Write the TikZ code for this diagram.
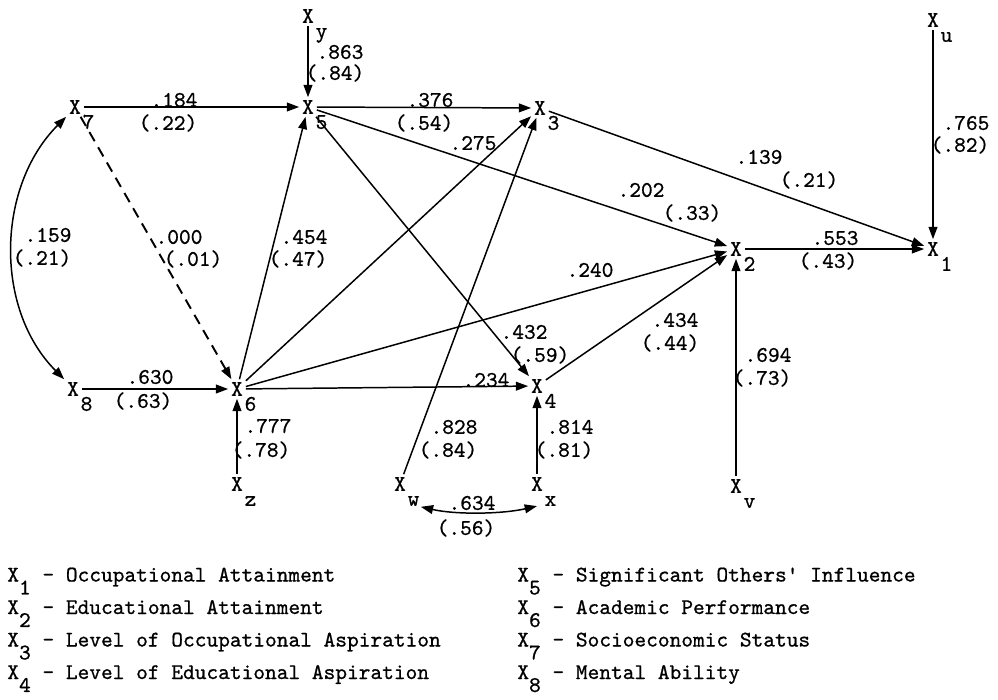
\documentclass[tikz,border=0pt]{standalone}
\usepackage{fontspec}
\usepackage{tikz}
\usetikzlibrary{arrows.meta}

\newfontfamily\typew{lmmono10-regular.otf}[FakeBold=0.8]
\newcommand\diagfont{\fontsize{12.7}{15}\selectfont\typew}
\newcommand\vx[1]{X\rlap{\smash{\hspace{0.08em}\raisebox{-0.67em}{#1}}}}
\newcommand\kx[1]{X\smash{\raisebox{-0.58em}{#1}}}

\tikzset{
  var/.style={inner sep=1.5pt, font=\diagfont},
  coef/.style={inner sep=0pt, font=\diagfont},
  eff/.style={-{Triangle[length=7pt,width=5pt]}, line width=0.85pt},
  corr/.style={{Triangle[length=7pt,width=5pt]}-{Triangle[length=7pt,width=5pt]}, line width=0.85pt},
}

\begin{document}
\begin{tikzpicture}[x=0.02cm,y=-0.02cm]
\useasboundingbox (0,0) rectangle (998,700);

% variables
\node[var] (xy) at (308,16) {\vx{y}};
\node[var] (x7) at (75,107) {\vx{7}};
\node[var] (x5) at (308,107) {\vx{5}};
\node[var] (x3) at (540,108) {\vx{3}};
\node[var] (xu) at (933,20) {\vx{u}};
\node[var] (x2) at (736,249) {\vx{2}};
\node[var] (x1) at (933,249) {\vx{1}};
\node[var] (x8) at (73,389) {\vx{8}};
\node[var] (x6) at (237,389) {\vx{6}};
\node[var] (x4) at (537,386) {\vx{4}};
\node[var] (xz) at (237,484) {\vx{z}};
\node[var] (xw) at (400,484) {\vx{w}};
\node[var] (xx) at (537,484) {\vx{x}};
\node[var] (xv) at (736,486) {\vx{v}};

% paths
\draw[eff] (x7) -- (x5);
\draw[eff] (xy) -- (x5);
\draw[eff] (x5) -- (x3);
\draw[eff] (x5) -- (x2);
\draw[eff] (x5) -- (x4);
\draw[eff] (x3) -- (x1);
\draw[eff] (x2) -- (x1);
\draw[eff] (xu) -- (x1);
\draw[eff, line width=1.1pt, dash pattern=on 6pt off 4pt] (x7) -- (x6);
\draw[eff] (x8) -- (x6);
\draw[eff] (xz) -- (x6);
\draw[eff] (x6) -- (x5);
\draw[eff] (x6) -- (x3);
\draw[eff] (x6) -- (x2);
\draw[eff] (x6) -- (x4);
\draw[eff] (xw) -- (x3);
\draw[eff] (xx) -- (x4);
\draw[eff] (x4) -- (x2);
\draw[eff] (xv) -- (x2);

% correlations
\draw[corr] (x7.south west) .. controls +(-70,70) and +(-70,-70) .. (x8.north west);
\draw[corr] ([shift={(12,13)}]xw.south east) .. controls +(35,8) and +(-35,8) .. ([yshift=-7pt]xx.south);

% coefficients
\foreach \cx/\cy/\txt [count=\k] in {
    174/100/.184, 168/123/(.22), 340/52/.863, 335/73/(.84),
    430/100/.376, 424/123/(.54), 473/143/.275, 641/190/.202, 692/213/(.33),
    759/157/.139, 809/180/(.21), 835/238/.553, 828/261/(.43),
    966/123/.765, 960/145/(.82), 48/235/.159, 42/258/(.21),
    179/237/.000, 193/259/(.01), 304/237/.454, 298/259/(.47),
    590/270/.240, 150/377/.630, 143/401/(.63), 268/426/.777, 261/450/(.78),
    486/380/.234, 524/332/.432, 540/355/(.59), 675/320/.434, 670/343/(.44),
    768/355/.694, 762/378/(.73), 570/427/.814, 564/450/(.81),
    454/427/.828, 448/450/(.84), 472/503/.634, 466/528/(.56)}
  \node[coef] (c\k) at (\cx,\cy) {\txt};

% key
\foreach \i/\txt in {1/Occupational Attainment, 2/Educational Attainment,
    3/Level of Occupational Aspiration, 4/Level of Educational Aspiration}
  \node[coef, anchor=base west] (key\i) at (7, 549+32.5*\i) {\kx{\i} - \txt};
\foreach \i/\txt in {5/Significant Others\textquotesingle{} Influence,
    6/Academic Performance, 7/Socioeconomic Status, 8/Mental Ability}
  \node[coef, anchor=base west] (key\i) at (517, 419+32.5*\i) {\kx{\i} - \txt};

\end{tikzpicture}
\end{document}
